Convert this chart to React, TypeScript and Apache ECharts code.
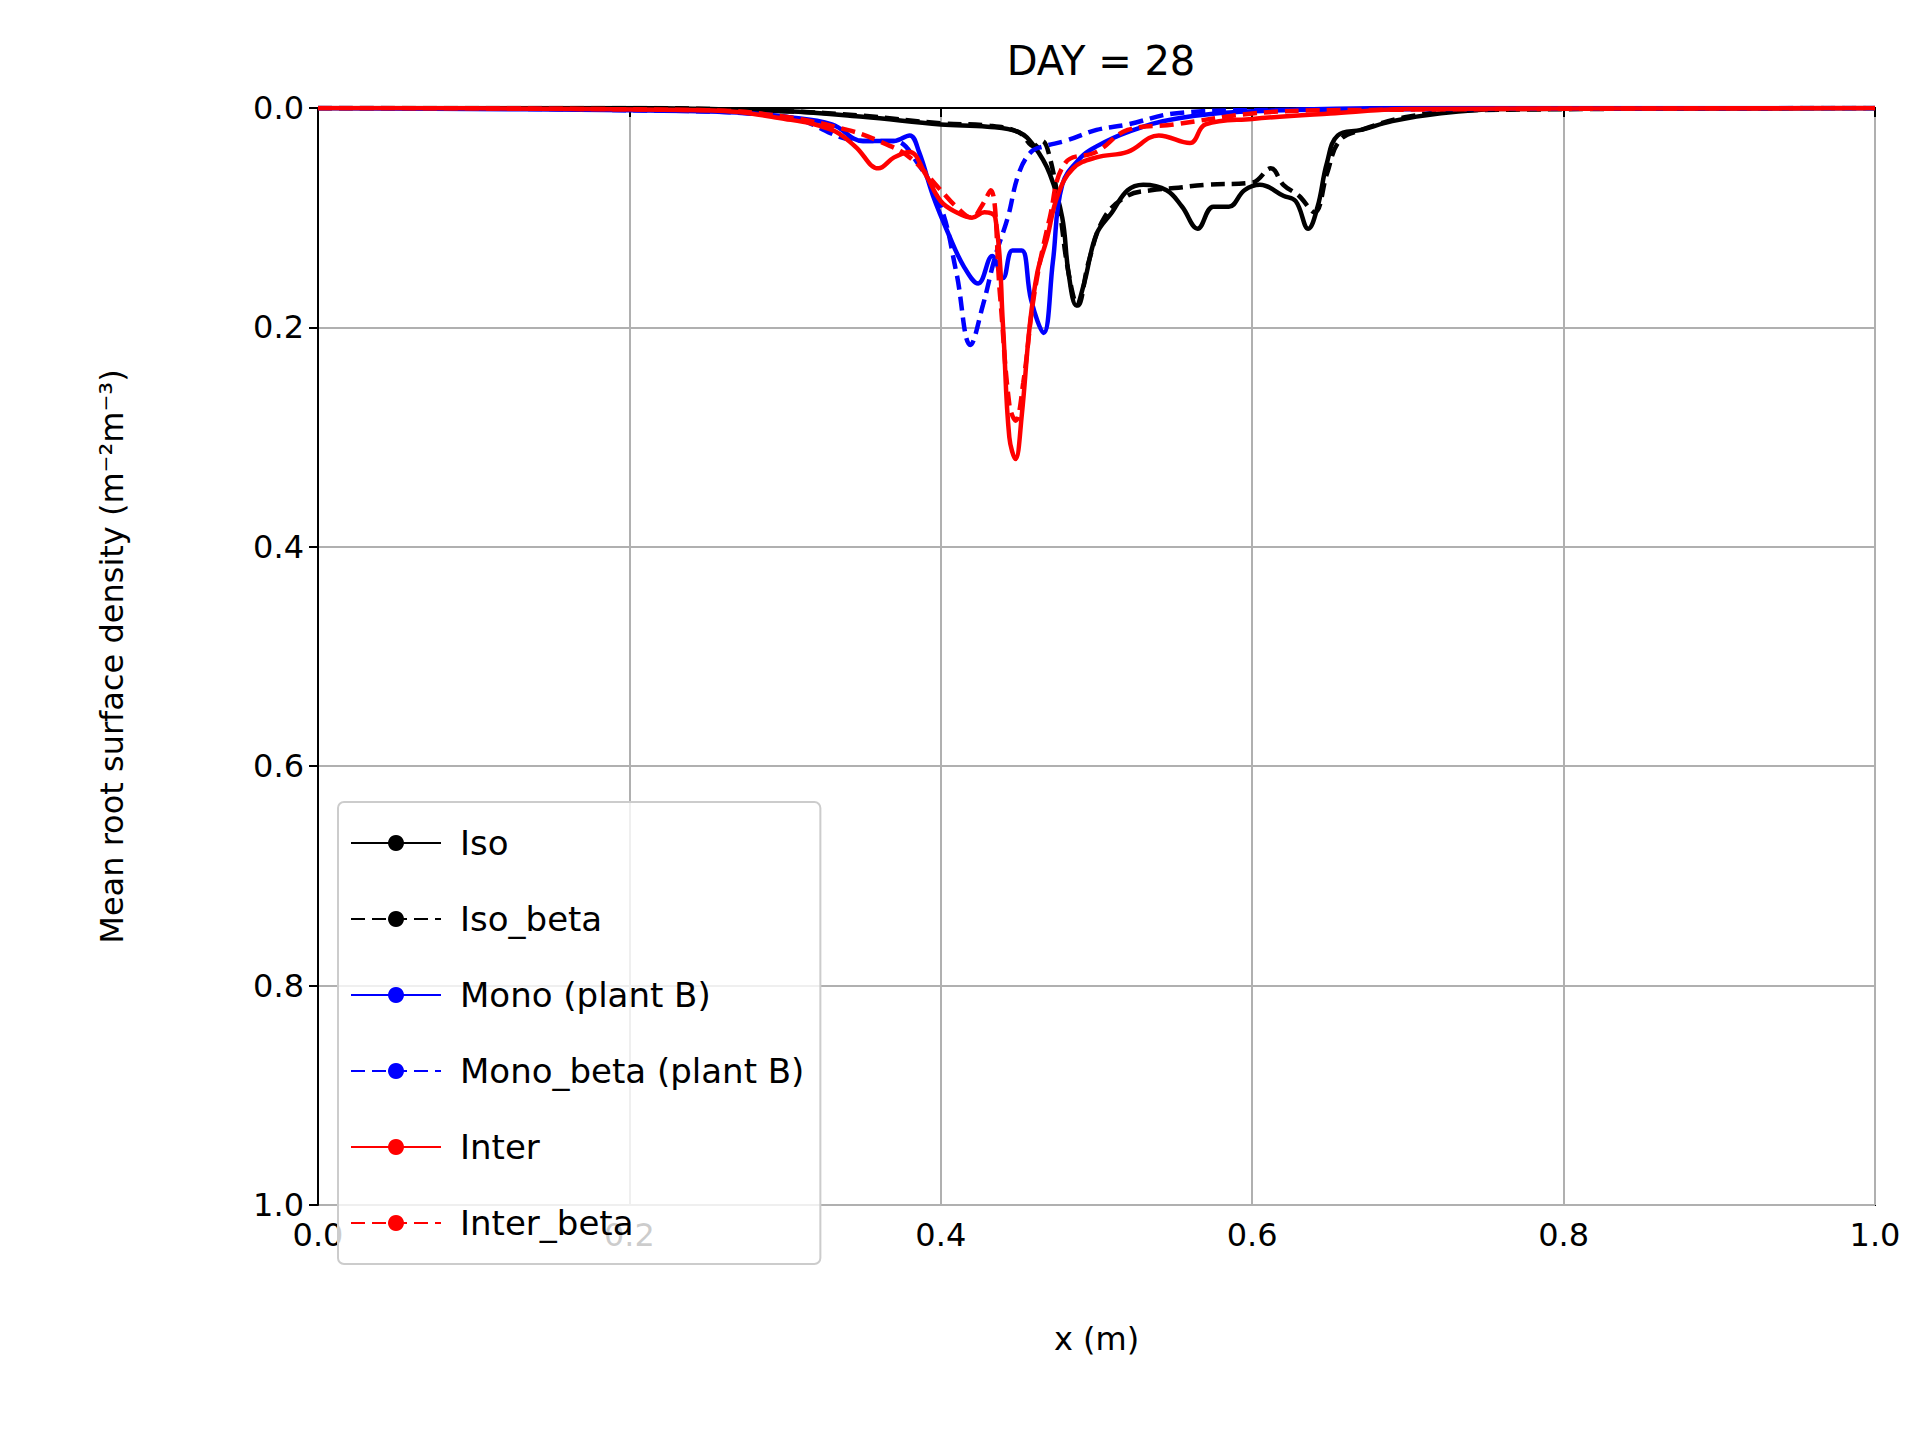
import { useEffect, useRef } from 'react';
import * as echarts from 'echarts';

// x positions (m) and mean root surface density values
const isoX = [0, 0.2, 0.3, 0.35, 0.4, 0.43, 0.45, 0.46, 0.47, 0.478, 0.482, 0.487, 0.492, 0.5, 0.51, 0.52, 0.53, 0.545, 0.555, 0.565, 0.575, 0.585, 0.595, 0.605, 0.62, 0.628, 0.636, 0.642, 0.648, 0.655, 0.67, 0.69, 0.72, 0.76, 1];
const isoY = [0, 0, 0.003, 0.008, 0.015, 0.017, 0.022, 0.035, 0.06, 0.1, 0.15, 0.18, 0.16, 0.115, 0.095, 0.075, 0.07, 0.075, 0.09, 0.11, 0.09, 0.09, 0.075, 0.07, 0.08, 0.085, 0.11, 0.09, 0.05, 0.025, 0.02, 0.012, 0.005, 0.001, 0];

const isoBetaX = [0, 0.2, 0.3, 0.35, 0.4, 0.43, 0.45, 0.46, 0.465, 0.47, 0.476, 0.482, 0.488, 0.495, 0.505, 0.52, 0.535, 0.55, 0.57, 0.6, 0.612, 0.62, 0.63, 0.64, 0.648, 0.656, 0.67, 0.7, 0.74, 1];
const isoBetaY = [0, 0, 0.003, 0.007, 0.014, 0.016, 0.022, 0.035, 0.03, 0.045, 0.09, 0.15, 0.18, 0.14, 0.1, 0.08, 0.075, 0.073, 0.07, 0.068, 0.055, 0.07, 0.08, 0.095, 0.06, 0.03, 0.02, 0.008, 0.002, 0];

const monoX = [0, 0.2, 0.27, 0.3, 0.33, 0.35, 0.37, 0.38, 0.386, 0.395, 0.405, 0.415, 0.424, 0.433, 0.44, 0.446, 0.452, 0.458, 0.466, 0.472, 0.478, 0.49, 0.5, 0.52, 0.55, 0.6, 0.7, 1];
const monoY = [0, 0.002, 0.004, 0.008, 0.015, 0.03, 0.03, 0.025, 0.04, 0.08, 0.115, 0.145, 0.16, 0.135, 0.155, 0.13, 0.13, 0.175, 0.205, 0.14, 0.07, 0.045, 0.035, 0.022, 0.01, 0.003, 0, 0];

const monoBetaX = [0, 0.2, 0.3, 0.35, 0.37, 0.385, 0.4, 0.41, 0.419, 0.427, 0.435, 0.443, 0.45, 0.458, 0.466, 0.48, 0.5, 0.52, 0.55, 0.6, 1];
const monoBetaY = [0, 0.002, 0.008, 0.03, 0.03, 0.05, 0.09, 0.15, 0.216, 0.18, 0.135, 0.1, 0.06, 0.04, 0.035, 0.03, 0.02, 0.015, 0.005, 0.002, 0];

const interX = [0, 0.25, 0.3, 0.33, 0.345, 0.36, 0.37, 0.38, 0.39, 0.4, 0.41, 0.42, 0.428, 0.435, 0.44, 0.444, 0.448, 0.452, 0.457, 0.462, 0.468, 0.475, 0.485, 0.5, 0.52, 0.54, 0.56, 0.57, 0.6, 0.65, 0.7, 1];
const interY = [0, 0.002, 0.01, 0.02, 0.035, 0.055, 0.045, 0.04, 0.06, 0.085, 0.095, 0.1, 0.095, 0.1, 0.2, 0.3, 0.32, 0.28, 0.2, 0.15, 0.12, 0.08, 0.055, 0.045, 0.04, 0.025, 0.032, 0.015, 0.01, 0.005, 0.001, 0];

const interBetaX = [0, 0.25, 0.3, 0.34, 0.36, 0.38, 0.4, 0.41, 0.42, 0.426, 0.432, 0.438, 0.444, 0.448, 0.453, 0.46, 0.47, 0.48, 0.5, 0.52, 0.55, 0.6, 0.65, 1];
const interBetaY = [0, 0.002, 0.008, 0.02, 0.03, 0.045, 0.075, 0.09, 0.1, 0.09, 0.075, 0.17, 0.27, 0.285, 0.25, 0.17, 0.1, 0.05, 0.04, 0.02, 0.015, 0.005, 0.002, 0];

const seriesDefs = [
  { name: 'Iso', xs: isoX, ys: isoY, color: '#000000', dashed: false },
  { name: 'Iso_beta', xs: isoBetaX, ys: isoBetaY, color: '#000000', dashed: true },
  { name: 'Mono (plant B)', xs: monoX, ys: monoY, color: '#0000ff', dashed: false },
  { name: 'Mono_beta (plant B)', xs: monoBetaX, ys: monoBetaY, color: '#0000ff', dashed: true },
  { name: 'Inter', xs: interX, ys: interY, color: '#ff0000', dashed: false },
  { name: 'Inter_beta', xs: interBetaX, ys: interBetaY, color: '#ff0000', dashed: true },
];

const font = 'DejaVu Sans';

export default function App() {
  const chartRef = useRef<HTMLDivElement | null>(null);

  useEffect(() => {
    document.body.style.margin = '0';
    if (!chartRef.current) return;
    const chart = echarts.init(chartRef.current, null, { renderer: 'svg' });

    const axisCommon = {
      type: 'value' as const,
      min: 0,
      max: 1,
      interval: 0.2,
      axisLine: { show: true, lineStyle: { color: '#000', width: 2 } },
      axisTick: { show: true, length: 9, lineStyle: { color: '#000', width: 2 } },
      axisLabel: { color: '#000', fontSize: 32, fontFamily: font, margin: 14, formatter: (v: number) => v.toFixed(1) },
      splitLine: { show: true, lineStyle: { color: '#b0b0b0', width: 2 } },
      nameTextStyle: { color: '#000', fontSize: 32, fontFamily: font },
    };

    chart.setOption({
      animation: false,
      backgroundColor: '#fff',
      title: {
        text: 'DAY = 28',
        left: 1096,
        top: 36,
        textAlign: 'center',
        textStyle: { color: '#000', fontSize: 40, fontWeight: 'normal', fontFamily: font },
      },
      grid: { left: 318, right: 45, top: 108, bottom: 235, show: true, borderColor: '#000', borderWidth: 2, backgroundColor: 'transparent' },
      legend: {
        orient: 'vertical',
        left: 338,
        top: 802,
        itemWidth: 90,
        itemHeight: 20,
        itemGap: 42,
        padding: [24, 16, 24, 12],
        backgroundColor: 'rgba(255,255,255,0.8)',
        borderColor: '#cccccc',
        borderWidth: 2,
        borderRadius: 6,
        textStyle: { color: '#000', fontSize: 34, fontFamily: font, padding: [0, 0, 0, 14] },
        data: seriesDefs.map((s) => s.name),
      },
      xAxis: { ...axisCommon, name: 'x (m)', nameLocation: 'middle', nameGap: 118 },
      yAxis: {
        ...axisCommon,
        inverse: true,
        name: 'Mean root surface density (m⁻²m⁻³)',
        nameLocation: 'middle',
        nameGap: 190,
        nameRotate: 90,
      },
      series: seriesDefs.map((s) => ({
        name: s.name,
        type: 'line',
        smooth: 0.4,
        showSymbol: false,
        symbol: 'none',
        color: s.color,
        itemStyle: { color: s.color },
        lineStyle: { color: s.color, width: 4.5, type: s.dashed ? [14, 7] : 'solid' },
        data: s.xs.map((x, i) => [x, s.ys[i]]),
      })),
    });

    return () => chart.dispose();
  }, []);

  return <div ref={chartRef} style={{ width: 1920, height: 1440 }} />;
}
